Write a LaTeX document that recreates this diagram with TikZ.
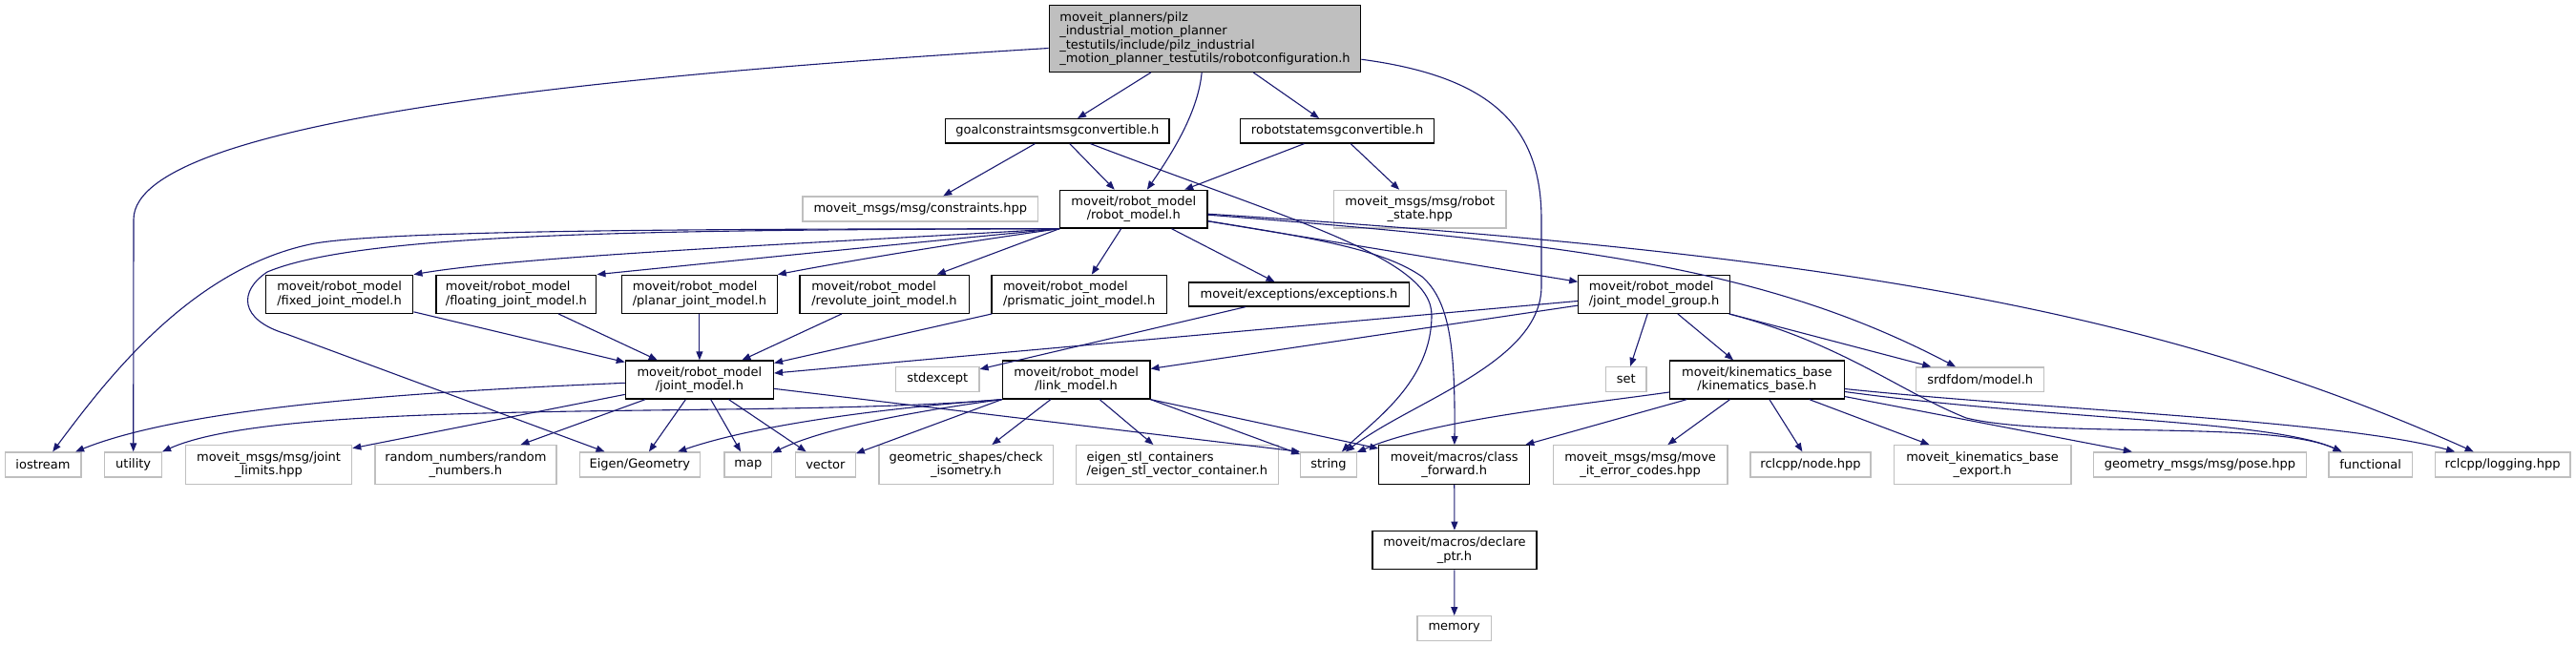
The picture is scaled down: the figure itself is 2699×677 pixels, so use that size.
\documentclass[tikz,border=0pt]{standalone}
\usepackage{fontspec}
\setmainfont{DejaVu Sans}
\usetikzlibrary{arrows.meta}
\definecolor{edgecol}{HTML}{191970}
\definecolor{greyline}{HTML}{BFBFBF}
\definecolor{rootfill}{HTML}{BFBFBF}
\tikzset{
  box/.style={draw, line width=1.3pt, inner sep=0pt, fill=white, font=\fontsize{13}{14.6}\selectfont},
  inbox/.style={box, draw=black, align=center},
  inleft/.style={box, draw=black, align=left},
  exbox/.style={box, draw=greyline, align=center},
  exleft/.style={box, draw=greyline, align=left},
  rootbox/.style={box, draw=black, fill=rootfill, align=left},
  dep/.style={draw=edgecol, line width=1.1pt, -{Triangle[length=9pt,width=7pt]}},
}
\begin{document}
\begin{tikzpicture}[x=1pt,y=-1pt]
\useasboundingbox (0,0) rectangle (2699,677);
% ---- nodes
\node[rootbox, minimum width=326.6pt, minimum height=69.6pt] (root) at (1262.5,40.5)
  {moveit\_planners/pilz\\\_industrial\_motion\_planner\\\_testutils/include/pilz\_industrial\\\_motion\_planner\_testutils/robotconfiguration.h};
\node[inbox, minimum width=234.2pt, minimum height=25.3pt] (goal) at (1107.8,137.3) {goalconstraintsmsgconvertible.h};
\node[inbox, minimum width=203.2pt, minimum height=25.3pt] (rstate) at (1401.1,137.3) {robotstatemsgconvertible.h};
\node[exbox, minimum width=246.7pt, minimum height=26pt] (constr) at (964.3,219) {moveit\_msgs/msg/constraints.hpp};
\node[inbox, minimum width=154.3pt, minimum height=39.7pt] (rmodel) at (1187.8,219.2) {moveit/robot\_model\\/robot\_model.h};
\node[exbox, minimum width=180.3pt, minimum height=39.7pt] (rshpp) at (1487.8,219.2) {moveit\_msgs/msg/robot\\\_state.hpp};
\node[inleft, minimum width=154.4pt, minimum height=40pt] (fixed) at (355.6,308.3) {moveit/robot\_model\\/fixed\_joint\_model.h};
\node[inleft, minimum width=167.8pt, minimum height=40pt] (floating) at (540.9,308.3) {moveit/robot\_model\\/floating\_joint\_model.h};
\node[inleft, minimum width=162.6pt, minimum height=40pt] (planar) at (732.9,308.3) {moveit/robot\_model\\/planar\_joint\_model.h};
\node[inleft, minimum width=177.3pt, minimum height=40pt] (revolute) at (926.5,308.3) {moveit/robot\_model\\/revolute\_joint\_model.h};
\node[inleft, minimum width=183.2pt, minimum height=40pt] (prismatic) at (1130.6,308.3) {moveit/robot\_model\\/prismatic\_joint\_model.h};
\node[inbox, minimum width=230.7pt, minimum height=25pt] (exceptions) at (1361,308.5) {moveit/exceptions/exceptions.h};
\node[inleft, minimum width=158.4pt, minimum height=40pt] (jmg) at (1733,308.3) {moveit/robot\_model\\/joint\_model\_group.h};
\node[inbox, minimum width=155pt, minimum height=40pt] (jmodel) at (732.9,398) {moveit/robot\_model\\/joint\_model.h};
\node[exbox, minimum width=87.4pt, minimum height=26pt] (stdexcept) at (982.2,397.3) {stdexcept};
\node[inbox, minimum width=154.6pt, minimum height=40pt] (lmodel) at (1127.6,398) {moveit/robot\_model\\/link\_model.h};
\node[exbox, minimum width=42.5pt, minimum height=26pt] (set) at (1703.7,397.5) {set};
\node[inbox, minimum width=182.6pt, minimum height=40pt] (kbase) at (1840.9,398) {moveit/kinematics\_base\\/kinematics\_base.h};
\node[exbox, minimum width=133.8pt, minimum height=25.7pt] (srdf) at (2074.7,397.8) {srdfdom/model.h};
% bottom row
\node[exbox, minimum width=79.7pt, minimum height=26pt] (iostream) at (45,487) {iostream};
\node[exbox, minimum width=60pt, minimum height=26pt] (utility) at (139.7,487) {utility};
\node[exbox, minimum width=174.1pt, minimum height=40.6pt] (jlimits) at (281.6,487) {moveit\_msgs/msg/joint\\\_limits.hpp};
\node[exbox, minimum width=190pt, minimum height=40.6pt] (random) at (487.9,487) {random\_numbers/random\\\_numbers.h};
\node[exbox, minimum width=126.3pt, minimum height=26pt] (eigen) at (670.4,487) {Eigen/Geometry};
\node[exbox, minimum width=49.7pt, minimum height=26pt] (map) at (783.9,487) {map};
\node[exbox, minimum width=62.5pt, minimum height=26pt] (vector) at (864.9,487) {vector};
\node[exbox, minimum width=182.3pt, minimum height=40.6pt] (geometric) at (1012.2,487) {geometric\_shapes/check\\\_isometry.h};
\node[exleft, minimum width=211.8pt, minimum height=40.6pt] (eigenstl) at (1233.3,487) {eigen\_stl\_containers\\/eigen\_stl\_vector\_container.h};
\node[exbox, minimum width=58.5pt, minimum height=26pt] (string) at (1392,487) {string};
\node[inbox, minimum width=157.8pt, minimum height=40.6pt] (classfwd) at (1523.7,487) {moveit/macros/class\\\_forward.h};
\node[exbox, minimum width=182.5pt, minimum height=40.6pt] (errcodes) at (1718.6,487) {moveit\_msgs/msg/move\\\_it\_error\_codes.hpp};
\node[exbox, minimum width=125.9pt, minimum height=26pt] (nodehpp) at (1897,487) {rclcpp/node.hpp};
\node[exbox, minimum width=185.8pt, minimum height=40.6pt] (kbexport) at (2077.1,487) {moveit\_kinematics\_base\\\_export.h};
\node[exbox, minimum width=222.7pt, minimum height=26pt] (pose) at (2305,487) {geometry\_msgs/msg/pose.hpp};
\node[exbox, minimum width=87.1pt, minimum height=26pt] (functional) at (2483.6,487) {functional};
\node[exbox, minimum width=141.6pt, minimum height=26pt] (logging) at (2622.1,487) {rclcpp/logging.hpp};
\node[inbox, minimum width=172.1pt, minimum height=40.4pt] (declare) at (1524,576.5) {moveit/macros/declare\\\_ptr.h};
\node[exbox, minimum width=77.5pt, minimum height=26pt] (memory) at (1523.7,658.7) {memory};
% ---- edges
% root
\draw[dep] (root) -- (goal);
\draw[dep] (root) -- (rstate);
\draw[dep] (root) .. controls (1255,120) and (1225,165) .. (rmodel);
\draw[dep] (root) .. controls (700,75) and (140,120) .. (140,230) -- (utility);
\draw[dep] (root) .. controls (1560,80) and (1615,130) .. (1615,230) -- (1615,300) .. controls (1615,380) and (1480,420) .. (string);
% goal
\draw[dep] (goal) -- (constr);
\draw[dep] (goal) -- (rmodel);
\draw[dep] (goal) .. controls (1350,230) and (1500,270) .. (1500,330) .. controls (1500,400) and (1440,440) .. (string);
% robot state
\draw[dep] (rstate) -- (rmodel);
\draw[dep] (rstate) -- (rshpp);
% robot model
\draw[dep] (rmodel.south west) .. controls (850,255) and (550,268) .. (fixed.north east);
\draw[dep] (rmodel.south west) .. controls (950,255) and (750,275) .. (floating.north east);
\draw[dep] (rmodel.south west) .. controls (1000,255) and (880,275) .. (planar.north east);
\draw[dep] (rmodel.south west) -- (revolute);
\draw[dep] (rmodel) -- (prismatic);
\draw[dep] (rmodel) -- (exceptions);
\draw[dep] (rmodel) -- (jmg);
\draw[dep] (rmodel.south west) .. controls (800,240) and (420,240) .. (330,255) .. controls (200,280) and (110,400) .. (iostream);
\draw[dep] (rmodel.south west) .. controls (700,241) and (380,243) .. (280,285) .. controls (250,305) and (250,335) .. (300,350) -- (eigen);
\draw[dep] (rmodel) .. controls (1380,250) and (1450,262) .. (1490,290) .. controls (1518,315) and (1525,360) .. (classfwd);
\draw[dep] (rmodel) .. controls (1650,255) and (1850,280) .. (srdf);
\draw[dep] (rmodel) .. controls (1900,265) and (2250,320) .. (logging);
% exceptions
\draw[dep] (exceptions) -- (stdexcept);
% joint model types
\draw[dep] (fixed) -- (jmodel);
\draw[dep] (floating) -- (jmodel);
\draw[dep] (planar) -- (jmodel);
\draw[dep] (revolute) -- (jmodel);
\draw[dep] (prismatic) -- (jmodel);
% joint model group
\draw[dep] (jmg) -- (jmodel);
\draw[dep] (jmg) -- (lmodel);
\draw[dep] (jmg) -- (set);
\draw[dep] (jmg) -- (kbase);
\draw[dep] (jmg) -- (srdf);
\draw[dep] (jmg) .. controls (1930,360) and (1990,410) .. (2060,438) .. controls (2150,460) and (2380,440) .. (functional);
% kinematics base
\draw[dep] (kbase) .. controls (1650,425) and (1500,440) .. (string);
\draw[dep] (kbase) -- (classfwd);
\draw[dep] (kbase) -- (errcodes);
\draw[dep] (kbase) -- (nodehpp);
\draw[dep] (kbase) -- (kbexport);
\draw[dep] (kbase) -- (pose);
\draw[dep] (kbase) .. controls (2150,440) and (2380,440) .. (functional);
\draw[dep] (kbase) .. controls (2150,430) and (2450,440) .. (logging);
% link model
\draw[dep] (lmodel.south west) .. controls (800,440) and (300,415) .. (utility);
\draw[dep] (lmodel.south west) .. controls (920,428) and (790,446) .. (eigen);
\draw[dep] (lmodel.south west) .. controls (950,432) and (860,450) .. (map);
\draw[dep] (lmodel.south west) -- (vector);
\draw[dep] (lmodel) -- (geometric);
\draw[dep] (lmodel) -- (eigenstl);
\draw[dep] (lmodel.south east) -- (string);
\draw[dep] (lmodel.south east) -- (classfwd);
% joint model
\draw[dep] (jmodel) .. controls (450,410) and (200,425) .. (iostream);
\draw[dep] (jmodel) -- (jlimits);
\draw[dep] (jmodel) -- (random);
\draw[dep] (jmodel) -- (eigen);
\draw[dep] (jmodel) -- (map);
\draw[dep] (jmodel) -- (vector);
\draw[dep] (jmodel) -- (string.north west);
% macros
\draw[dep] (classfwd) -- (declare);
\draw[dep] (declare) -- (memory);
\end{tikzpicture}
\end{document}
